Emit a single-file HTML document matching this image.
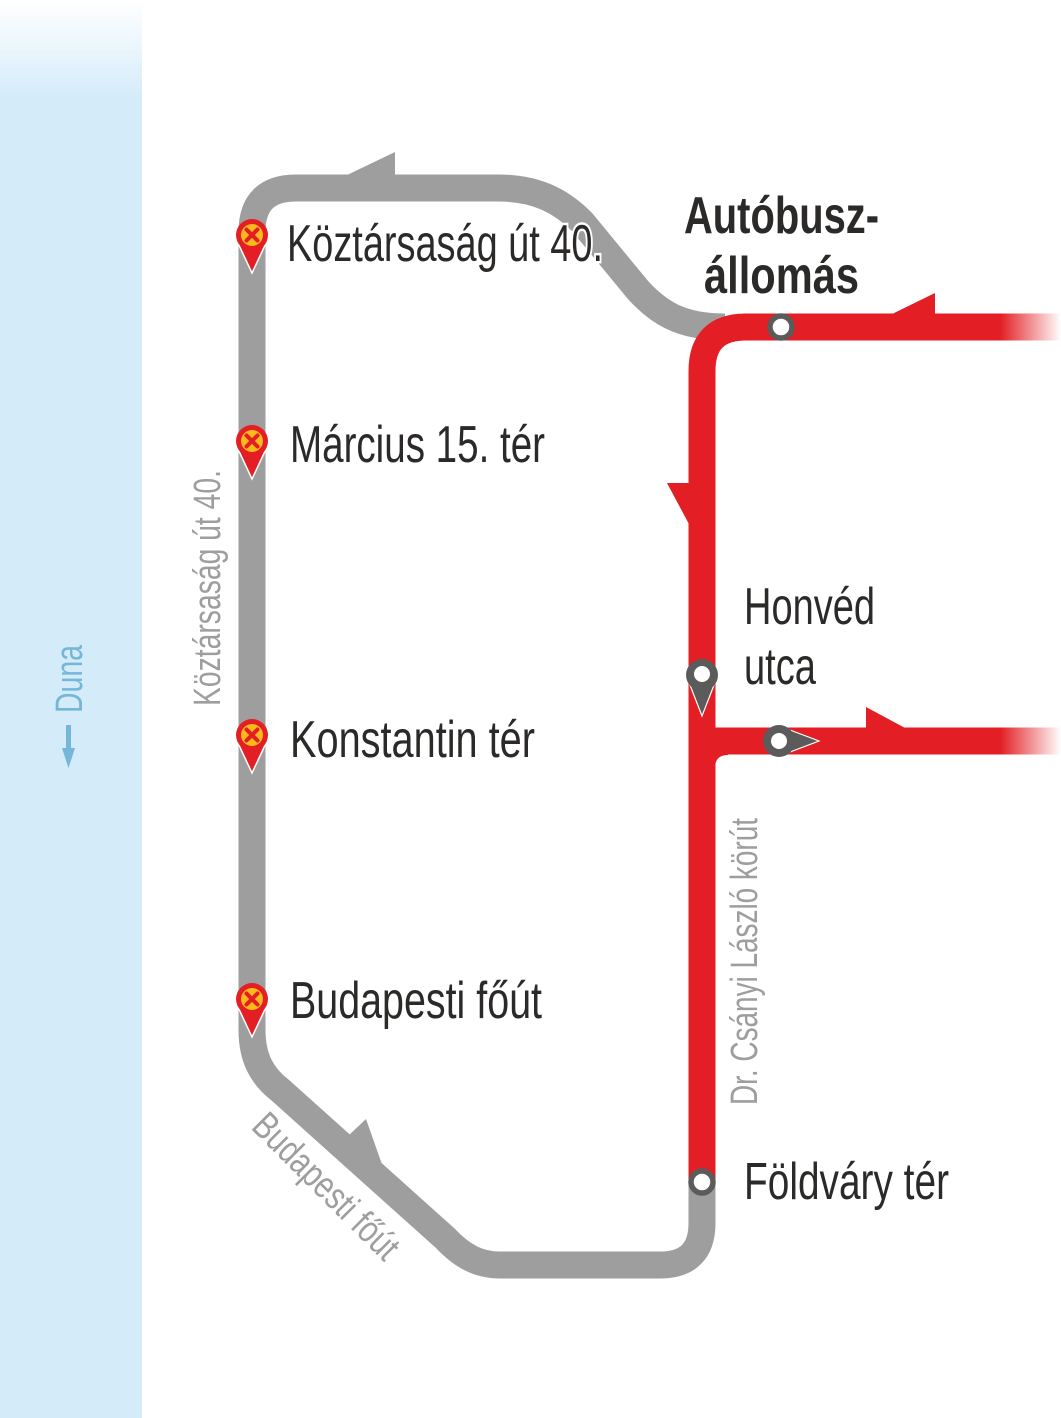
<!DOCTYPE html>
<html><head><meta charset="utf-8"><style>
html,body{margin:0;padding:0;background:#fff;}
svg{display:block;}
text{font-family:"Liberation Sans",sans-serif;}
</style></head><body>
<svg width="1061" height="1418" viewBox="0 0 1061 1418" xmlns="http://www.w3.org/2000/svg">
<defs>
<linearGradient id="water" x1="0" y1="0" x2="0" y2="1">
<stop offset="0" stop-color="#ffffff"/><stop offset="0.07" stop-color="#d4ebfa"/><stop offset="1" stop-color="#d4ebfa"/>
</linearGradient>
<linearGradient id="fade" x1="0" y1="0" x2="1" y2="0">
<stop offset="0" stop-color="#e31e24"/><stop offset="1" stop-color="#e31e24" stop-opacity="0"/>
</linearGradient>
<g id="rpin">
<path d="M-15,6 L0,38 L15,6 Z" fill="#e31e24" stroke="#fff" stroke-width="1.5"/>
<circle r="16" fill="#e31e24"/>
<circle r="11" fill="#fbb91c"/>
<path d="M-5.5,-5.5 L5.5,5.5 M5.5,-5.5 L-5.5,5.5" stroke="#e31e24" stroke-width="4" stroke-linecap="round"/>
</g>
</defs>
<rect x="0" y="0" width="142" height="1418" fill="url(#water)"/>
<text transform="translate(82,713) rotate(-90)" font-size="38" fill="#76b6d6" textLength="68" lengthAdjust="spacingAndGlyphs">Duna</text>
<rect x="66" y="725" width="5" height="26" fill="#76b6d6"/>
<polygon points="62,748 75,748 68.5,768" fill="#76b6d6"/>

<!-- gray route -->
<path d="M252,1030 V232 Q252,188 296,188 H498 C535,188 560,200 582,222 L638,290 C658,312 680,327 725,327" fill="none" stroke="#9d9e9d" stroke-width="27"/>
<path d="M252,995 V1030 C252,1058 262,1076 280,1090 L445,1238 C462,1256 478,1265 500,1265 H660 Q702,1265 702,1223 V1180" fill="none" stroke="#9d9e9d" stroke-width="27"/>
<polygon points="395,152 395,176 345,176" fill="#9d9e9d"/>
<polygon points="366,1119 384,1170 348,1136" fill="#9d9e9d"/>

<!-- red route -->
<path d="M1000,327 H746 Q702,327 702,371 V1182" fill="none" stroke="#e31e24" stroke-width="27"/>
<path d="M702,741 H1000" fill="none" stroke="#e31e24" stroke-width="27"/>
<path d="M715,728 Q720,728 728,728 L728,755 Q715,755 715,768 Z" fill="#e31e24"/>
<rect x="1000" y="313.5" width="61" height="27" fill="url(#fade)"/>
<rect x="1000" y="727.5" width="61" height="27" fill="url(#fade)"/>
<polygon points="935,293 935,315 890,315" fill="#e31e24"/>
<polygon points="667,483 690,483 690,526" fill="#e31e24"/>
<polygon points="866,707 866,729 907,729" fill="#e31e24"/>

<!-- stops -->
<circle cx="781" cy="327" r="11" fill="#fff" stroke="#5b5b5b" stroke-width="5.5"/>
<circle cx="702" cy="1182" r="11" fill="#fff" stroke="#5b5b5b" stroke-width="5.5"/>
<g>
<path d="M688,680 L702,716 L716,680 Z" fill="#5b5b5b" stroke="#fff" stroke-width="1.2"/>
<circle cx="702" cy="675" r="16" fill="#5b5b5b"/><circle cx="702" cy="674" r="8" fill="#fff"/>
</g>
<g>
<path d="M782,727 L819,741 L782,755 Z" fill="#5b5b5b" stroke="#fff" stroke-width="1.2"/>
<circle cx="779" cy="741" r="16" fill="#5b5b5b"/><circle cx="779" cy="741" r="8" fill="#fff"/>
</g>
<use href="#rpin" x="252" y="235"/>
<use href="#rpin" x="252" y="441"/>
<use href="#rpin" x="252" y="735"/>
<use href="#rpin" x="252" y="999"/>

<!-- labels -->
<g fill="#2b2a29" font-size="52">
<text x="287" y="261" textLength="316" lengthAdjust="spacingAndGlyphs" stroke="#fff" stroke-width="5" paint-order="stroke">Köztársaság út 40.</text>
<text x="290" y="462" textLength="255" lengthAdjust="spacingAndGlyphs">Március 15. tér</text>
<text x="290" y="757" textLength="245" lengthAdjust="spacingAndGlyphs">Konstantin tér</text>
<text x="290" y="1018" textLength="252" lengthAdjust="spacingAndGlyphs">Budapesti főút</text>
<text x="744" y="624" textLength="131" lengthAdjust="spacingAndGlyphs">Honvéd</text>
<text x="744" y="684" textLength="72" lengthAdjust="spacingAndGlyphs">utca</text>
<text x="744" y="1199" textLength="205" lengthAdjust="spacingAndGlyphs">Földváry tér</text>
<text x="684" y="233" font-weight="bold" textLength="195" lengthAdjust="spacingAndGlyphs">Autóbusz-</text>
<text x="704" y="293" font-weight="bold" textLength="155" lengthAdjust="spacingAndGlyphs">állomás</text>
</g>
<g fill="#9d9e9d" font-size="38">
<text transform="translate(220,706) rotate(-90)" textLength="236" lengthAdjust="spacingAndGlyphs">Köztársaság út 40.</text>
<text transform="translate(757,1105) rotate(-90)" textLength="287" lengthAdjust="spacingAndGlyphs">Dr. Csányi László körút</text>
<text transform="translate(250,1128) rotate(45)" textLength="190" lengthAdjust="spacingAndGlyphs">Budapesti főút</text>
</g>
</svg>
</body></html>
